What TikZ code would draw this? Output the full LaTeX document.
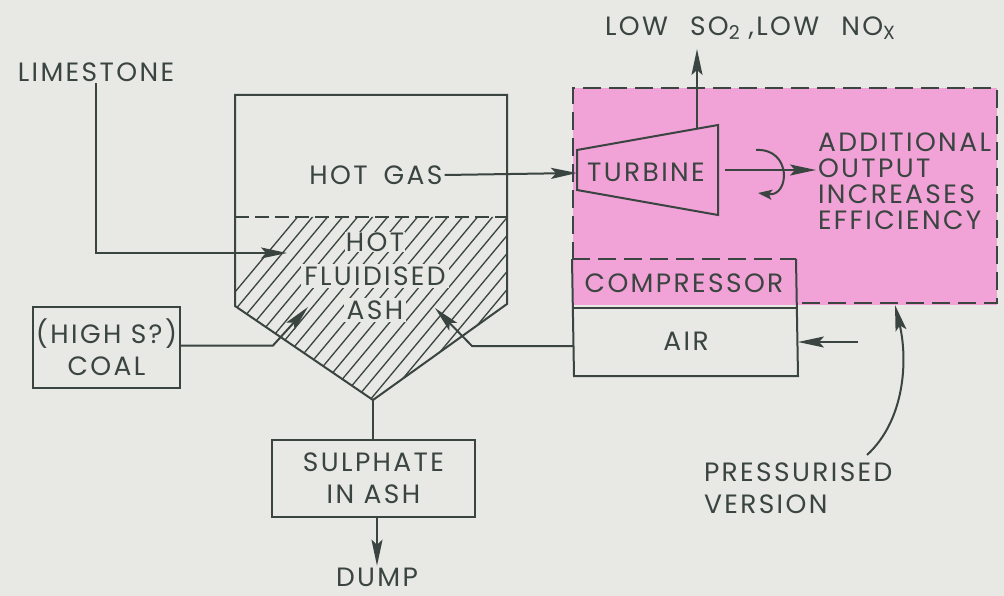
\documentclass[tikz,border=0pt]{standalone}
\usepackage{fontspec}
\setmainfont{Poppins}
\newfontfamily\stencil[LetterSpace=9]{Poppins}
\usetikzlibrary{arrows.meta}
\definecolor{paper}{RGB}{232,232,229}
\definecolor{ink}{RGB}{58,68,64}
\definecolor{pinkfill}{RGB}{241,162,214}
\begin{document}
\begin{tikzpicture}[x=1pt,y=-1pt, line width=2pt, draw=ink,
  lbl/.style={font=\stencil\fontsize{26.5}{32}\selectfont, text=ink, inner sep=1pt, align=center},
  arr/.style={-{Stealth[length=26pt,width=11pt,inset=5pt]}},
  dashline/.style={dash pattern=on 18pt off 8pt},
  boxnode/.style={lbl, draw=ink, line width=2pt, inner sep=0pt}]
\fill[paper] (0,0) rectangle (1004,596);
\useasboundingbox (0,0) rectangle (1004,596);

% pressurised region
\fill[pinkfill] (573,88) rectangle (997,305);
\draw[dashline] (573,260) -- (573,88) -- (997,88) -- (997,303) -- (797,303);

% compressor and air
\node[lbl, minimum width=222pt, minimum height=47pt] (comp) at (684,283.5) {COMPRESSOR};
\node[lbl, minimum width=222pt, minimum height=68pt] (air) at (686,341) {AIR};
\draw[dashline] (comp.north west) -- (comp.north east);
\draw (comp.north west) -- (air.south west) -- (air.south east) -- (comp.north east);
\draw (comp.south west) -- (comp.south east);

% turbine
\coordinate (t1) at (577,150); \coordinate (t2) at (718,125);
\coordinate (t3) at (718,215); \coordinate (t4) at (577,190);
\draw (t1) -- (t2) -- (t3) -- (t4) -- cycle;
\node[lbl] (turb) at (646,172) {TURBINE};
\coordinate (turbin) at (577,173);
\coordinate (turbtop) at (697,129);
\coordinate (turbout) at (725,170);

% vessel
\coordinate (vtl) at (235,95); \coordinate (vtr) at (507,95);
\coordinate (vl) at (235,306); \coordinate (vr) at (507,304);
\coordinate (vb) at (373,400);
\coordinate (hl) at (235,217); \coordinate (hr) at (507,217);
\begin{scope}
  \clip (hl) -- (hr) -- (vr) -- (vb) -- (vl) -- cycle;
  \foreach \i in {0,...,40} \draw[line width=1.3pt] (120+\i*15,430) -- ++(200,-240);
\end{scope}
\draw[dash pattern=on 14pt off 6pt] (hl) -- (hr);
\draw (vl) -- (vtl) -- (vtr) -- (vr) -- (vb) -- cycle;

\node[lbl, font=\stencil\fontsize{26.5}{34}\selectfont] (ash) at (375,277)
  {\setlength{\fboxsep}{1pt}\colorbox{paper}{HOT}\\\colorbox{paper}{FLUIDISED}\\\colorbox{paper}{ASH}};
\node[lbl] (hotgas) at (376,175) {HOT\hspace{16pt}GAS};

% inputs
\node[lbl] (lime) at (96,72) {LIMESTONE};
\coordinate (limein) at (287,253);
\draw[arr] (lime.south) |- (limein);

\node[boxnode, minimum width=147pt, minimum height=81pt] (coal) at (106.5,347.5) {(HIGH S?)\\COAL};
\coordinate (coalin) at (308,307);
\draw[arr] ([yshift=2pt]coal.east) -- ++(92,0) -- (coalin);

\coordinate (airin) at (435,308);
\draw[arr] ([yshift=-5pt]air.west) -- ++(-102,0) -- (airin);
\coordinate (airsrc) at (858,342);
\draw[arr] (airsrc) -- (air.east |- airsrc);

\draw[arr] (hotgas.east) -- (turbin);

% exhaust
\node[lbl] (exh) at (750,28) {LOW\hspace{22pt}SO\raisebox{-4pt}{\fontsize{19}{19}\selectfont 2}\hspace{9pt},LOW\hspace{22pt}NO\raisebox{-4pt}{\fontsize{19}{19}\selectfont X}};
\coordinate (exhtip) at (697,49);
\draw[arr] (turbtop) -- (exhtip);

% shaft output
\node[lbl, anchor=west, align=left, font=\stencil\fontsize{26.5}{26}\selectfont] (out) at (816,181)
  {ADDITIONAL\\OUTPUT\\INCREASES\\EFFICIENCY};
\draw[arr] (turbout) -- (out.west |- turbout);
\draw[-{Stealth[length=14pt,width=10pt,inset=3pt]}] (756,150) .. controls (792,148) and (790,197) .. (758,193);

% bottom
\node[boxnode, minimum width=203pt, minimum height=77pt] (sulph) at (373.5,478.5) {SULPHATE\\IN ASH};
\draw (vb) -- (sulph.north -| vb);
\node[lbl] (dump) at (377,577) {DUMP};
\draw[arr] (sulph.south -| dump) -- (dump.north);

% pressurised label
\node[lbl, anchor=west, align=left] (press) at (702,488) {PRESSURISED\\VERSION};
\coordinate (pstart) at (867,455);
\coordinate (ptip) at (895,305);
\draw[arr] (pstart) .. controls (905,420) and (908,360) .. (ptip);
\end{tikzpicture}
\end{document}
